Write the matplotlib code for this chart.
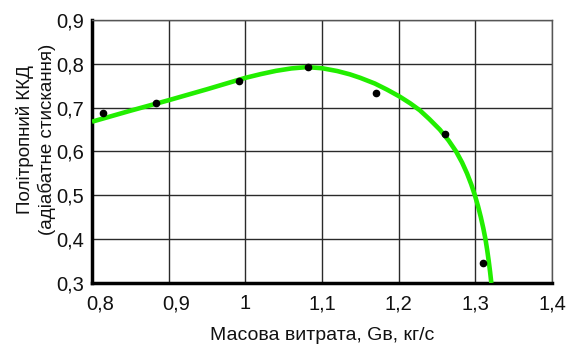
import matplotlib
matplotlib.use("Agg")
import matplotlib.pyplot as plt
import matplotlib.transforms as mtrans

plt.rcParams['font.family'] = ['Liberation Sans', 'DejaVu Sans']

# measured points
pts_x = [0.814, 0.883, 0.992, 1.082, 1.170, 1.260, 1.310]
pts_y = [0.688, 0.710, 0.761, 0.793, 0.734, 0.640, 0.345]

# fitted curve
curve_x = [0.800, 0.850, 0.900, 0.950, 1.000, 1.020, 1.040, 1.060, 1.080, 1.100,
           1.120, 1.1364, 1.150, 1.169, 1.185, 1.2016, 1.215, 1.2276, 1.240, 1.2537,
           1.2652, 1.27495, 1.2827, 1.2892, 1.2947, 1.29945, 1.30358, 1.3072, 1.3104,
           1.31323, 1.3155, 1.3175, 1.3193, 1.3209]
curve_y = [0.668, 0.693, 0.717, 0.742, 0.768, 0.7765, 0.784, 0.7895, 0.7925, 0.790,
           0.7835, 0.776, 0.768, 0.755, 0.741, 0.725, 0.710, 0.694, 0.674, 0.650,
           0.625, 0.600, 0.575, 0.550, 0.525, 0.500, 0.475, 0.450, 0.425,
           0.400, 0.375, 0.350, 0.325, 0.300]

xticks = [0.8, 0.9, 1.0, 1.1, 1.2, 1.3, 1.4]
xtick_labels = ['0,8', '0,9', '1', '1,1', '1,2', '1,3', '1,4']
yticks = [0.3, 0.4, 0.5, 0.6, 0.7, 0.8, 0.9]
ytick_labels = ['0,3', '0,4', '0,5', '0,6', '0,7', '0,8', '0,9']

fig = plt.figure(figsize=(5.67, 3.46), dpi=100)
ax = fig.add_axes([0.1623, 0.1821, 0.9735 - 0.1623, 0.9422 - 0.1821])

ax.set_xlim(0.8, 1.4)
ax.set_ylim(0.3, 0.9)
ax.set_xticks(xticks)
ax.set_xticklabels(xtick_labels)
ax.set_yticks(yticks)
ax.set_yticklabels(ytick_labels)
ax.grid(True, color='#2a2a2a', linewidth=1.0)
ax.set_axisbelow(True)

ax.plot(curve_x, curve_y, color='#22ee00', linewidth=3.3, solid_capstyle='butt',
        solid_joinstyle='round', zorder=3)
ax.plot(pts_x, pts_y, 'o', color='black', markersize=4.5, zorder=4)

for s in ['top', 'right']:
    ax.spines[s].set_color('#555555')
    ax.spines[s].set_linewidth(1.0)
for s in ['left', 'bottom']:
    ax.spines[s].set_color('black')
    ax.spines[s].set_linewidth(2.5)

ax.tick_params(axis='both', length=0, labelsize=14.5, colors='#111111')
ax.tick_params(axis='y', pad=6)
ax.tick_params(axis='x', pad=8)

# first two x labels appear shifted slightly to the right in the reference
for lbl in ax.get_xticklabels()[:2]:
    lbl.set_transform(lbl.get_transform() + mtrans.ScaledTranslation(8/100, 0, fig.dpi_scale_trans))

ax.set_xlabel('Масова витрата, Gв, кг/с', fontsize=14, labelpad=10, color='#111111')
ax.set_ylabel('Політропний ККД\n(адіабатне стискання)', fontsize=13.5,
              color='#111111', linespacing=1.3)
ax.yaxis.set_label_coords(-0.078, 0.545)

fig.savefig('out.png', dpi=100)
